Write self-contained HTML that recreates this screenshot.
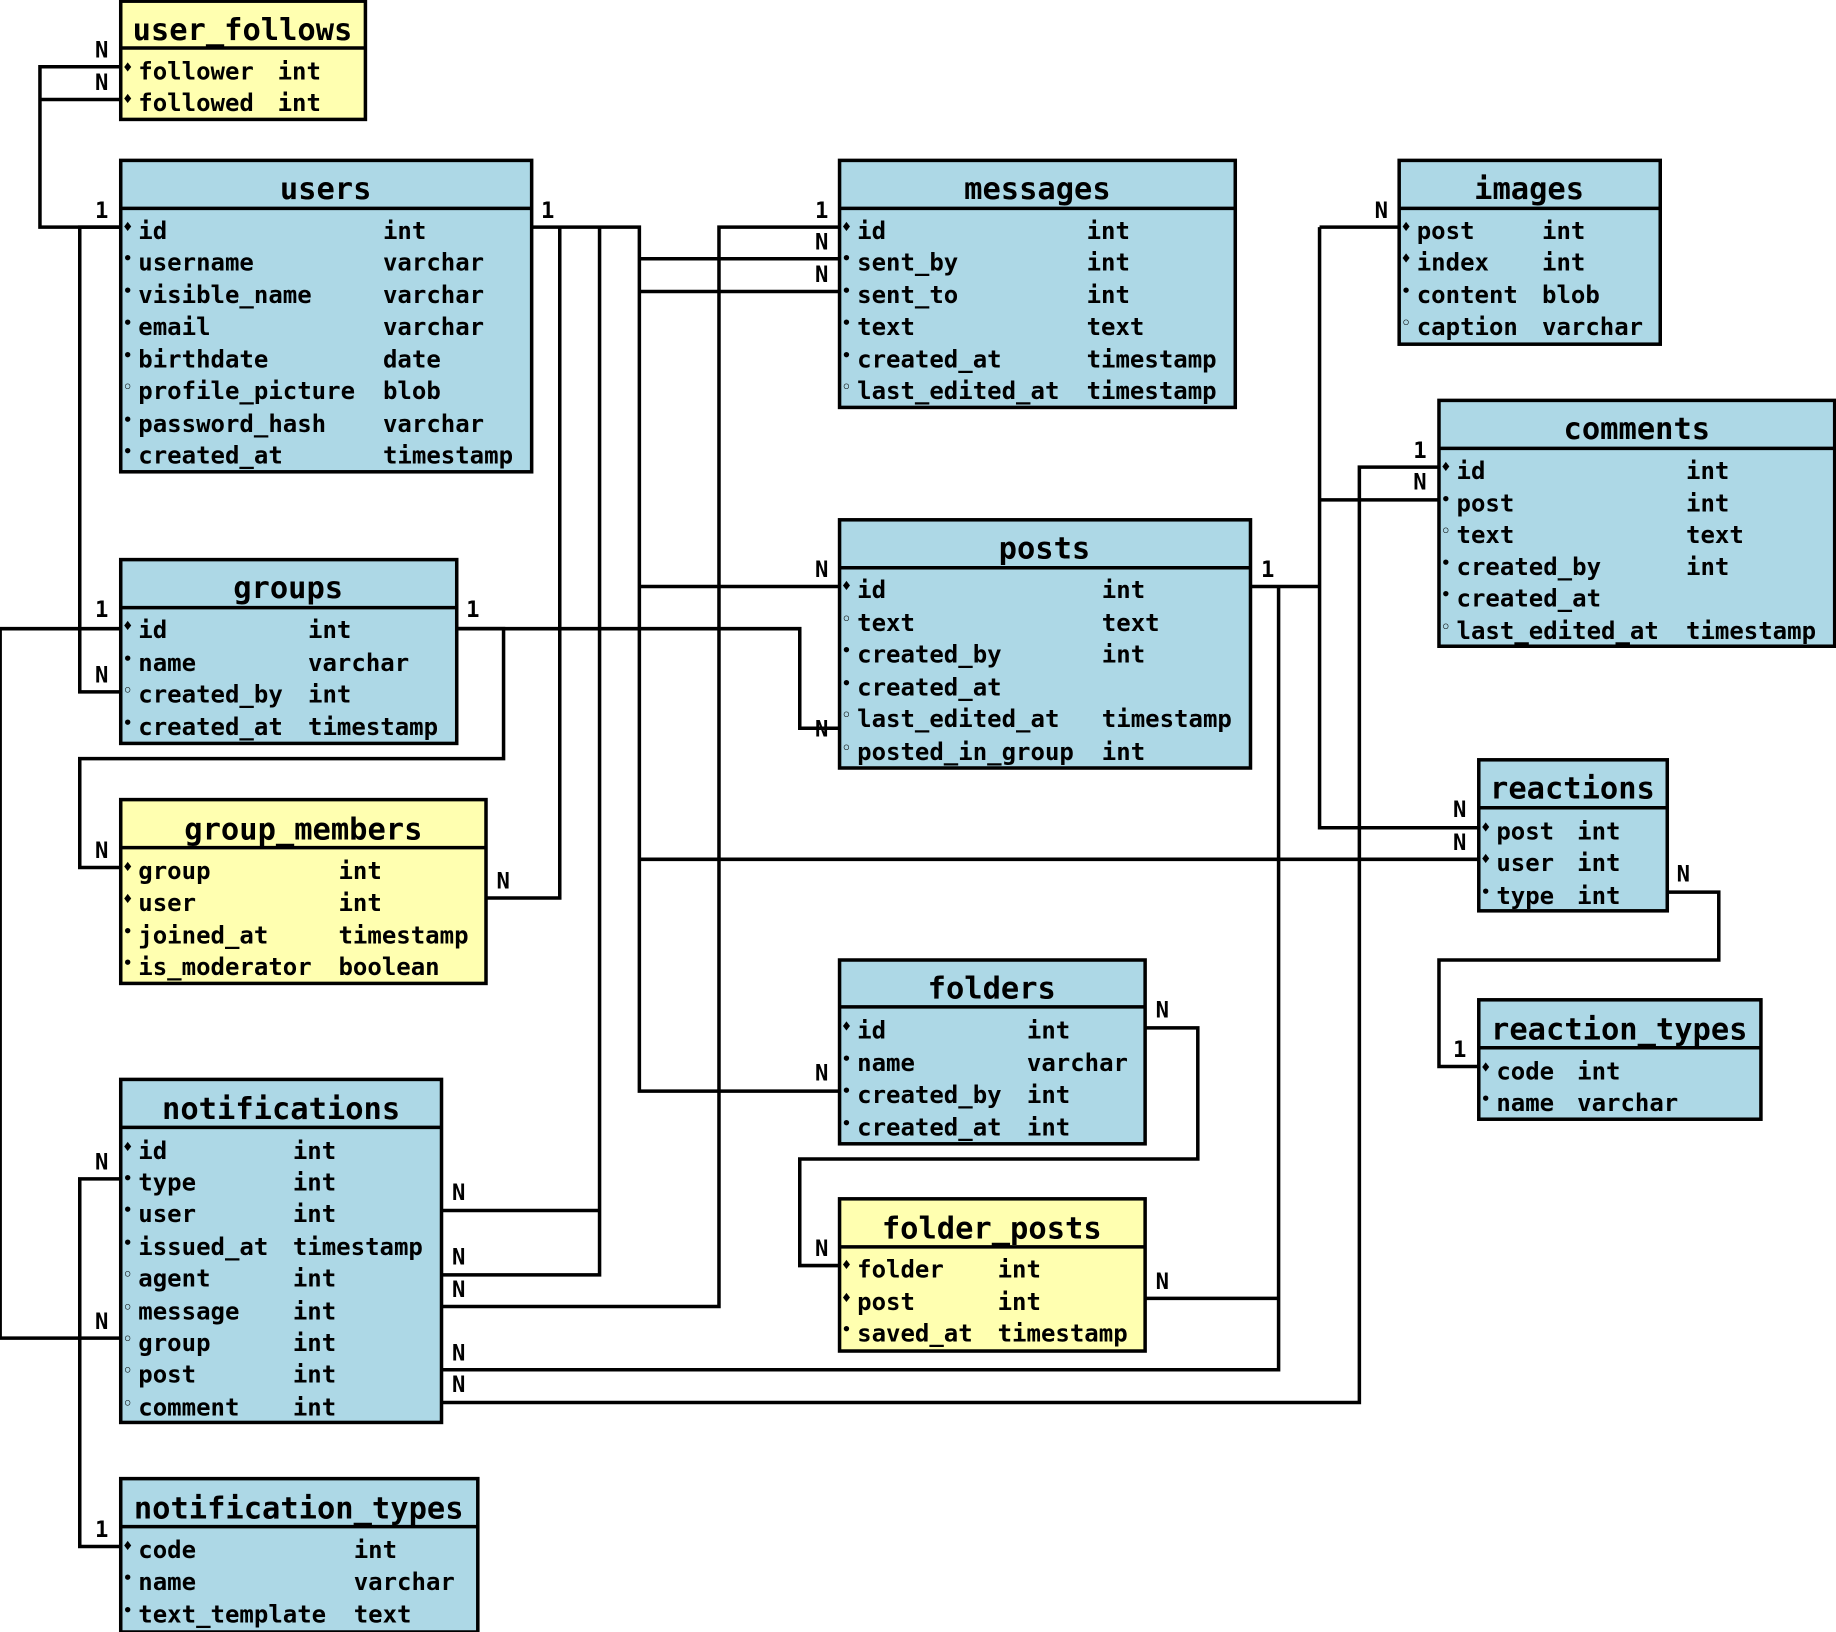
<!DOCTYPE html>
<html><head><meta charset="utf-8"><style>
html,body{margin:0;padding:0;background:#fff;}
svg{display:block;}
text{font-family:"DejaVu Sans Mono","Liberation Mono",monospace;font-weight:bold;fill:#000;}
.r{font-size:20.5px;}
.t{font-size:26px;}
.m{font-size:13px;}
.l{font-size:19px;}
.tb{stroke:#000;stroke-width:3;}
.c{fill:none;stroke:#000;stroke-width:3;}
</style></head><body>
<svg width="1836" height="1632" viewBox="0 0 1568 1394" xmlns="http://www.w3.org/2000/svg">
<!-- connectors -->
<g class="c">
<path d="M103,57 H34 V194 H103 M103,85 H34"/>
<path d="M103,194 H68 V591 H103"/>
<path d="M390,537 H430 V648 H68 V741 H103"/>
<path d="M103,537 H0 V1143 H103"/>
<path d="M103,1007 H68 V1321 H103"/>
<path d="M454,194 H546 V932 H717 M546,221 H717 M546,249 H717 M546,501 H717 M546,734 H1263"/>
<path d="M512,194 V1089 H377 M512,1034 H377"/>
<path d="M478,194 V767 H415"/>
<path d="M717,194 H614 V1116 H377"/>
<path d="M390,537 H683 V622 H717"/>
<path d="M1068,501 H1127 M1127,194 V707 H1263 M1127,194 H1195 M1127,427 H1229"/>
<path d="M1092,501 V1170 H377 M978,1109 H1092"/>
<path d="M1229,399 H1161 V1198 H377"/>
<path d="M1424,762 H1468 V820 H1229 V911 H1263"/>
<path d="M978,878 H1023 V990 H683 V1081 H717"/>
</g>
<!-- cardinality labels -->
<g class="l">
<text x="81" y="49">N</text><text x="81" y="77">N</text><text x="81" y="186">1</text>
<text x="462" y="186">1</text>
<text x="81" y="527">1</text><text x="81" y="583">N</text><text x="398" y="527">1</text>
<text x="81" y="733">N</text><text x="424" y="759">N</text>
<text x="81" y="999">N</text><text x="81" y="1135">N</text><text x="81" y="1313">1</text>
<text x="386" y="1025">N</text><text x="386" y="1080">N</text><text x="386" y="1108">N</text>
<text x="386" y="1162">N</text><text x="386" y="1189">N</text>
<text x="696" y="186">1</text><text x="696" y="213">N</text><text x="696" y="241">N</text>
<text x="696" y="493">N</text><text x="696" y="629">N</text>
<text x="1077" y="493">1</text>
<text x="696" y="923">N</text><text x="987" y="869">N</text>
<text x="696" y="1073">N</text><text x="987" y="1101">N</text>
<text x="1174" y="186">N</text>
<text x="1207" y="391">1</text><text x="1207" y="418">N</text>
<text x="1241" y="698">N</text><text x="1241" y="726">N</text><text x="1432" y="753">N</text>
<text x="1241" y="903">1</text>
</g>

<!-- user_follows -->
<rect x="103" y="1" width="209" height="101" fill="#ffffb0" class="tb"/>
<line x1="103" y1="41" x2="312" y2="41" class="tb"/>
<text class="t" x="207" y="34" text-anchor="middle">user_follows</text>
<text class="m" x="105" y="62">♦</text><text class="r" x="118" y="68">follower</text><text class="r" x="237" y="68">int</text>
<text class="m" x="105" y="89">♦</text><text class="r" x="118" y="95">followed</text><text class="r" x="237" y="95">int</text>

<!-- users -->
<rect x="103" y="137" width="351" height="266" fill="#add8e6" class="tb"/>
<line x1="103" y1="178" x2="454" y2="178" class="tb"/>
<text class="t" x="278" y="170" text-anchor="middle">users</text>
<text class="m" x="105" y="198">♦</text><text class="r" x="118" y="204">id</text><text class="r" x="327" y="204">int</text>
<text class="m" x="105" y="225">•</text><text class="r" x="118" y="231">username</text><text class="r" x="327" y="231">varchar</text>
<text class="m" x="105" y="253">•</text><text class="r" x="118" y="259">visible_name</text><text class="r" x="327" y="259">varchar</text>
<text class="m" x="105" y="280">•</text><text class="r" x="118" y="286">email</text><text class="r" x="327" y="286">varchar</text>
<text class="m" x="105" y="308">•</text><text class="r" x="118" y="314">birthdate</text><text class="r" x="327" y="314">date</text>
<text class="m" x="105" y="335">◦</text><text class="r" x="118" y="341">profile_picture</text><text class="r" x="327" y="341">blob</text>
<text class="m" x="105" y="363">•</text><text class="r" x="118" y="369">password_hash</text><text class="r" x="327" y="369">varchar</text>
<text class="m" x="105" y="390">•</text><text class="r" x="118" y="396">created_at</text><text class="r" x="327" y="396">timestamp</text>

<!-- messages -->
<rect x="717" y="137" width="338" height="211" fill="#add8e6" class="tb"/>
<line x1="717" y1="178" x2="1055" y2="178" class="tb"/>
<text class="t" x="886" y="170" text-anchor="middle">messages</text>
<text class="m" x="719" y="198">♦</text><text class="r" x="732" y="204">id</text><text class="r" x="928" y="204">int</text>
<text class="m" x="719" y="225">•</text><text class="r" x="732" y="231">sent_by</text><text class="r" x="928" y="231">int</text>
<text class="m" x="719" y="253">•</text><text class="r" x="732" y="259">sent_to</text><text class="r" x="928" y="259">int</text>
<text class="m" x="719" y="280">•</text><text class="r" x="732" y="286">text</text><text class="r" x="928" y="286">text</text>
<text class="m" x="719" y="308">•</text><text class="r" x="732" y="314">created_at</text><text class="r" x="928" y="314">timestamp</text>
<text class="m" x="719" y="335">◦</text><text class="r" x="732" y="341">last_edited_at</text><text class="r" x="928" y="341">timestamp</text>

<!-- images -->
<rect x="1195" y="137" width="223" height="157" fill="#add8e6" class="tb"/>
<line x1="1195" y1="178" x2="1418" y2="178" class="tb"/>
<text class="t" x="1306" y="170" text-anchor="middle">images</text>
<text class="m" x="1197" y="198">♦</text><text class="r" x="1210" y="204">post</text><text class="r" x="1317" y="204">int</text>
<text class="m" x="1197" y="225">♦</text><text class="r" x="1210" y="231">index</text><text class="r" x="1317" y="231">int</text>
<text class="m" x="1197" y="253">•</text><text class="r" x="1210" y="259">content</text><text class="r" x="1317" y="259">blob</text>
<text class="m" x="1197" y="280">◦</text><text class="r" x="1210" y="286">caption</text><text class="r" x="1317" y="286">varchar</text>

<!-- comments -->
<rect x="1229" y="342" width="338" height="210" fill="#add8e6" class="tb"/>
<line x1="1229" y1="383" x2="1567" y2="383" class="tb"/>
<text class="t" x="1398" y="375" text-anchor="middle">comments</text>
<text class="m" x="1231" y="403">♦</text><text class="r" x="1244" y="409">id</text><text class="r" x="1440" y="409">int</text>
<text class="m" x="1231" y="431">•</text><text class="r" x="1244" y="437">post</text><text class="r" x="1440" y="437">int</text>
<text class="m" x="1231" y="458">◦</text><text class="r" x="1244" y="464">text</text><text class="r" x="1440" y="464">text</text>
<text class="m" x="1231" y="485">•</text><text class="r" x="1244" y="491">created_by</text><text class="r" x="1440" y="491">int</text>
<text class="m" x="1231" y="512">•</text><text class="r" x="1244" y="518">created_at</text>
<text class="m" x="1231" y="540">◦</text><text class="r" x="1244" y="546">last_edited_at</text><text class="r" x="1440" y="546">timestamp</text>

<!-- groups -->
<rect x="103" y="478" width="287" height="157" fill="#add8e6" class="tb"/>
<line x1="103" y1="519" x2="390" y2="519" class="tb"/>
<text class="t" x="246" y="511" text-anchor="middle">groups</text>
<text class="m" x="105" y="539">♦</text><text class="r" x="118" y="545">id</text><text class="r" x="263" y="545">int</text>
<text class="m" x="105" y="567">•</text><text class="r" x="118" y="573">name</text><text class="r" x="263" y="573">varchar</text>
<text class="m" x="105" y="594">◦</text><text class="r" x="118" y="600">created_by</text><text class="r" x="263" y="600">int</text>
<text class="m" x="105" y="622">•</text><text class="r" x="118" y="628">created_at</text><text class="r" x="263" y="628">timestamp</text>

<!-- posts -->
<rect x="717" y="444" width="351" height="212" fill="#add8e6" class="tb"/>
<line x1="717" y1="485" x2="1068" y2="485" class="tb"/>
<text class="t" x="892" y="477" text-anchor="middle">posts</text>
<text class="m" x="719" y="505">♦</text><text class="r" x="732" y="511">id</text><text class="r" x="941" y="511">int</text>
<text class="m" x="719" y="533">◦</text><text class="r" x="732" y="539">text</text><text class="r" x="941" y="539">text</text>
<text class="m" x="719" y="560">•</text><text class="r" x="732" y="566">created_by</text><text class="r" x="941" y="566">int</text>
<text class="m" x="719" y="588">•</text><text class="r" x="732" y="594">created_at</text>
<text class="m" x="719" y="615">◦</text><text class="r" x="732" y="621">last_edited_at</text><text class="r" x="941" y="621">timestamp</text>
<text class="m" x="719" y="643">◦</text><text class="r" x="732" y="649">posted_in_group</text><text class="r" x="941" y="649">int</text>

<!-- reactions -->
<rect x="1263" y="649" width="161" height="129" fill="#add8e6" class="tb"/>
<line x1="1263" y1="690" x2="1424" y2="690" class="tb"/>
<text class="t" x="1343" y="682" text-anchor="middle">reactions</text>
<text class="m" x="1265" y="711">♦</text><text class="r" x="1278" y="717">post</text><text class="r" x="1347" y="717">int</text>
<text class="m" x="1265" y="738">♦</text><text class="r" x="1278" y="744">user</text><text class="r" x="1347" y="744">int</text>
<text class="m" x="1265" y="766">•</text><text class="r" x="1278" y="772">type</text><text class="r" x="1347" y="772">int</text>

<!-- group_members -->
<rect x="103" y="683" width="312" height="157" fill="#ffffb0" class="tb"/>
<line x1="103" y1="724" x2="415" y2="724" class="tb"/>
<text class="t" x="259" y="717" text-anchor="middle">group_members</text>
<text class="m" x="105" y="745">♦</text><text class="r" x="118" y="751">group</text><text class="r" x="289" y="751">int</text>
<text class="m" x="105" y="772">♦</text><text class="r" x="118" y="778">user</text><text class="r" x="289" y="778">int</text>
<text class="m" x="105" y="800">•</text><text class="r" x="118" y="806">joined_at</text><text class="r" x="289" y="806">timestamp</text>
<text class="m" x="105" y="827">•</text><text class="r" x="118" y="833">is_moderator</text><text class="r" x="289" y="833">boolean</text>

<!-- folders -->
<rect x="717" y="820" width="261" height="157" fill="#add8e6" class="tb"/>
<line x1="717" y1="860" x2="978" y2="860" class="tb"/>
<text class="t" x="847" y="853" text-anchor="middle">folders</text>
<text class="m" x="719" y="881">♦</text><text class="r" x="732" y="887">id</text><text class="r" x="877" y="887">int</text>
<text class="m" x="719" y="909">•</text><text class="r" x="732" y="915">name</text><text class="r" x="877" y="915">varchar</text>
<text class="m" x="719" y="936">•</text><text class="r" x="732" y="942">created_by</text><text class="r" x="877" y="942">int</text>
<text class="m" x="719" y="964">•</text><text class="r" x="732" y="970">created_at</text><text class="r" x="877" y="970">int</text>

<!-- reaction_types -->
<rect x="1263" y="854" width="241" height="102" fill="#add8e6" class="tb"/>
<line x1="1263" y1="895" x2="1504" y2="895" class="tb"/>
<text class="t" x="1383" y="888" text-anchor="middle">reaction_types</text>
<text class="m" x="1265" y="916">♦</text><text class="r" x="1278" y="922">code</text><text class="r" x="1347" y="922">int</text>
<text class="m" x="1265" y="943">•</text><text class="r" x="1278" y="949">name</text><text class="r" x="1347" y="949">varchar</text>

<!-- folder_posts -->
<rect x="717" y="1024" width="261" height="130" fill="#ffffb0" class="tb"/>
<line x1="717" y1="1065" x2="978" y2="1065" class="tb"/>
<text class="t" x="847" y="1058" text-anchor="middle">folder_posts</text>
<text class="m" x="719" y="1085">♦</text><text class="r" x="732" y="1091">folder</text><text class="r" x="852" y="1091">int</text>
<text class="m" x="719" y="1113">♦</text><text class="r" x="732" y="1119">post</text><text class="r" x="852" y="1119">int</text>
<text class="m" x="719" y="1140">•</text><text class="r" x="732" y="1146">saved_at</text><text class="r" x="852" y="1146">timestamp</text>

<!-- notifications -->
<rect x="103" y="922" width="274" height="293" fill="#add8e6" class="tb"/>
<line x1="103" y1="963" x2="377" y2="963" class="tb"/>
<text class="t" x="240" y="956" text-anchor="middle">notifications</text>
<text class="m" x="105" y="984">♦</text><text class="r" x="118" y="990">id</text><text class="r" x="250" y="990">int</text>
<text class="m" x="105" y="1011">•</text><text class="r" x="118" y="1017">type</text><text class="r" x="250" y="1017">int</text>
<text class="m" x="105" y="1038">•</text><text class="r" x="118" y="1044">user</text><text class="r" x="250" y="1044">int</text>
<text class="m" x="105" y="1066">•</text><text class="r" x="118" y="1072">issued_at</text><text class="r" x="250" y="1072">timestamp</text>
<text class="m" x="105" y="1093">◦</text><text class="r" x="118" y="1099">agent</text><text class="r" x="250" y="1099">int</text>
<text class="m" x="105" y="1121">◦</text><text class="r" x="118" y="1127">message</text><text class="r" x="250" y="1127">int</text>
<text class="m" x="105" y="1148">◦</text><text class="r" x="118" y="1154">group</text><text class="r" x="250" y="1154">int</text>
<text class="m" x="105" y="1175">◦</text><text class="r" x="118" y="1181">post</text><text class="r" x="250" y="1181">int</text>
<text class="m" x="105" y="1203">◦</text><text class="r" x="118" y="1209">comment</text><text class="r" x="250" y="1209">int</text>

<!-- notification_types -->
<rect x="103" y="1263" width="305" height="131" fill="#add8e6" class="tb"/>
<line x1="103" y1="1304" x2="408" y2="1304" class="tb"/>
<text class="t" x="255" y="1297" text-anchor="middle">notification_types</text>
<text class="m" x="105" y="1325">♦</text><text class="r" x="118" y="1331">code</text><text class="r" x="302" y="1331">int</text>
<text class="m" x="105" y="1352">•</text><text class="r" x="118" y="1358">name</text><text class="r" x="302" y="1358">varchar</text>
<text class="m" x="105" y="1380">•</text><text class="r" x="118" y="1386">text_template</text><text class="r" x="302" y="1386">text</text>
</svg>
</body></html>
